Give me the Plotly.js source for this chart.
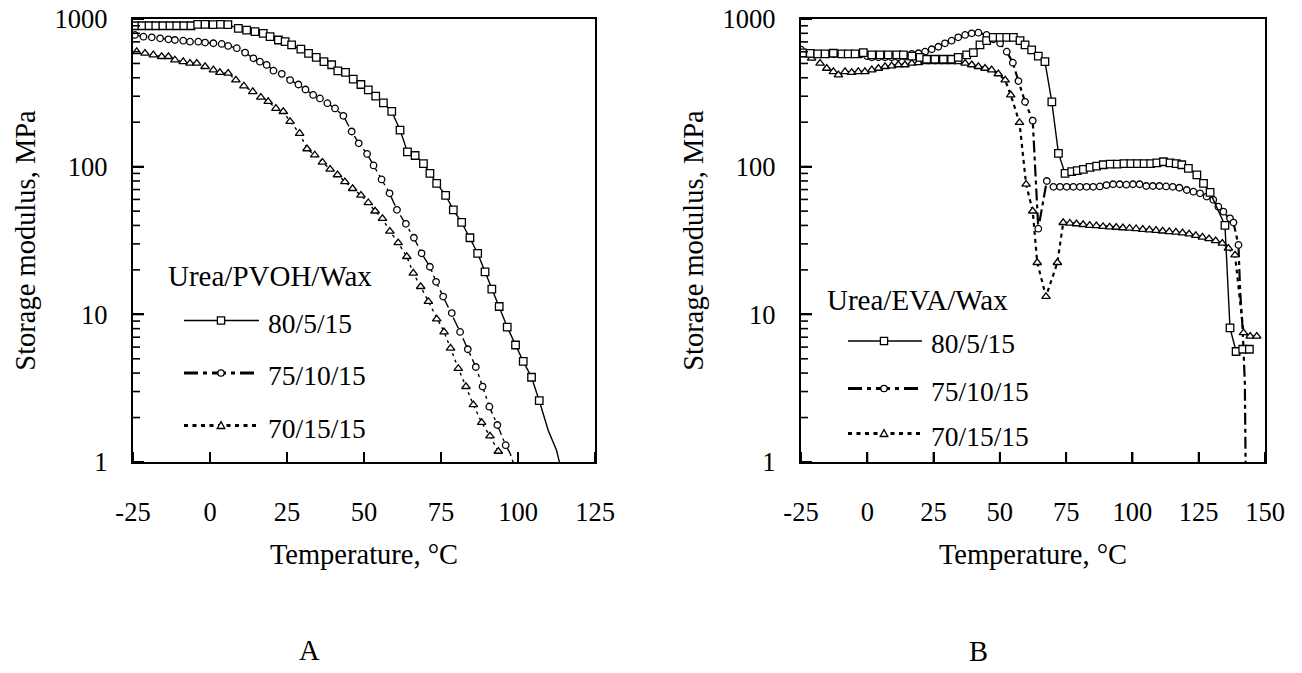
<!DOCTYPE html>
<html><head><meta charset="utf-8">
<script src="https://cdn.plot.ly/plotly-3.0.1.min.js"></script>
<style>html,body{margin:0;padding:0;background:#fff}#chart{width:1302px;height:673px}</style>
</head><body><div id="chart"></div>
<script>
const seriesNames = ['80/5/15','75/10/15','70/15/15'];
const legendTitles = ['Urea/PVOH/Wax','Urea/EVA/Wax'];
const panelLabels = ['A','B'];
const xTitle = 'Temperature, °C';
const yTitle = 'Storage modulus, MPa';
const xTickValsA = [-25,0,25,50,75,100,125];
const xTickTextA = ['-25','0','25','50','75','100','125'];
const xTickValsB = [-25,0,25,50,75,100,125,150];
const xTickTextB = ['-25','0','25','50','75','100','125','150'];
const yTickVals = [1,10,100,1000];
const yTickText = ['1','10','100','1000'];
const yMinorTickVals = [2,3,4,5,6,7,8,9,20,30,40,50,60,70,80,90,200,300,400,500,600,700,800,900];

// ---------- Panel A : Urea/PVOH/Wax ----------
const tempA80 = [-24.4,-22.1,-19.8,-17.6,-15.3,-13.0,-10.8,-8.5,-6.2,-4.0,-1.6,1.0,3.4,5.8,9.2,11.9,14.6,17.3,19.5,22.2,24.4,26.5,29.5,32.0,34.5,37.0,39.5,41.5,44.0,46.5,49.0,51.4,53.8,56.3,59.0,61.7,64.1,66.6,69.3,71.4,73.6,76.5,79.0,81.7,84.4,86.9,89.3,91.5,93.9,96.5,99.2,101.7,104.4,106.9];
const modA80  = [900,900,900,900,900,900,900,900,900,920,920,915,920,915,865,842,821,800,759,721,702,667,625,585,550,515,490,446,435,392,360,331,300,270,237,177,126,119,105,90,77,64,51,42,33,25.9,19.4,14.8,11.3,8.2,6.2,4.8,3.75,2.6];
const tailA80T = [106.9,109.8,112.5,113.6];
const tailA80E = [2.6,1.64,1.2,0.97];

const tempA75 = [-24.4,-21.6,-18.9,-16.2,-13.5,-11.4,-8.7,-6.5,-3.8,-1.6,1.1,3.8,5.9,8.7,11.4,14.1,16.2,18.4,20.6,23.3,26.0,28.7,31.0,33.5,35.7,38.1,40.6,43.3,46.0,48.3,51.0,53.1,55.7,58.3,60.7,63.6,66.2,68.7,71.4,73.4,75.7,78.5,81.2,83.7,86.3,88.5,90.7,93.3,96.0];
const modA75  = [780,759,752,740,728,721,713,702,702,692,685,678,657,634,592,542,514,489,447,425,386,360,333,306,290,269,248,221,173,144,122,102,82,66,51,41,33,25.9,21,16.6,13.2,10.2,7.6,5.8,4.4,3.24,2.37,1.78,1.30];
const tailA75T = [96.0,97.4,98.6];
const tailA75E = [1.30,1.15,0.97];

const tempA70 = [-23.8,-21.1,-18.4,-15.7,-13.5,-11.4,-8.7,-6.5,-4.3,-1.6,1.1,3.2,5.9,8.4,11.0,13.9,16.5,18.9,21.4,23.8,26.0,29.1,31.5,34.0,36.5,39.0,41.4,43.8,46.3,49.0,51.4,53.6,56.0,58.4,61.1,63.9,66.0,68.4,70.9,73.6,76.0,78.1,80.6,83.1,85.5,88.2,90.9,93.6];
const modA70  = [601,586,571,556,556,528,514,501,501,476,452,434,429,386,352,322,295,276,248,236,202,168,132,120,107,96,88,79,71,64,57,50,44.5,36.5,30.5,24.6,19,15.4,12.2,9.3,7.6,5.9,4.3,3.24,2.44,1.85,1.50,1.18];

// ---------- Panel B : Urea/EVA/Wax ----------
const tempB80 = [-24.4,-21.5,-18.7,-15.9,-12.8,-9.6,-7.2,-4.6,-1.5,1.7,4.8,7.9,11.1,13.6,16.8,19.9,22.4,25.5,28.7,31.8,34.3,37.5,40.0,42.5,45.0,47.5,50.1,52.6,55.1,57.6,59.5,62.0,64.5,67.0,69.6,72.1,74.6,77.1,79.2,81.5,84.0,86.5,89.0,91.6,94.3,96.8,99.4,101.9,104.4,106.9,109.2,111.7,114.2,116.5,118.6,121.1,124.3,126.8,129.3,134.9,136.8,139.1,141.6,144.1];
const modB80  = [590,585,580,580,586,580,580,580,592,571,571,571,571,571,561,550,534,534,534,534,550,571,592,667,713,752,752,752,752,713,667,617,561,514,275,123,90,92.5,94,96,99,101,103,104,104,105,105,105,105,105,106,108,106,105,103,97.5,88,77,67,40,8.1,5.6,5.8,5.8];

const tempB75 = [-25,-22.5,-20,-17.5,-15,-12.5,-10,-7.5,-5,-2.5,0,1.7,4.2,6.7,9.2,11.7,14.2,16.8,19.3,21.8,24.3,26.8,29.3,31.8,34.3,36.9,39.4,41.9,45.0,47.5,50.1,52.6,54.9,57.0,59.5,62.4,64.5,67.7,70.2,72.7,75.2,77.7,80.2,82.7,85.2,87.7,90.2,92.7,95.2,97.7,100.2,102.7,105.2,107.7,110.2,112.7,115.2,117.7,120.5,123,125.5,128,130.5,132.4,134.3,136.8,138.1,140];
const modB75  = [620,585,580,578,578,578,578,578,578,575,560,550,550,550,550,550,556,580,586,601,624,649,684,713,752,780,800,808,780,728,684,601,506,380,275,205,38,80,73,73,73,73,73,73,73,73.5,75,76,76,75.5,76,76,74,74,74,73.5,73,72,69.5,67.7,66,62.7,59.6,53.6,49.6,44.7,41.8,29.5];
const tailB75T = [140,140.6,141.6,142.4,142.7];
const tailB75E = [29.5,14.6,7.8,3.4,0.9];

const tempB70 = [-24.1,-21.0,-17.8,-15.3,-12.8,-10.9,-8.4,-5.9,-3.4,-0.9,1.7,4.2,6.7,9.2,11.7,14.2,16.8,19.3,21.8,24.3,26.8,29.3,31.8,34.3,36.9,39.4,41.9,44.4,46.9,49.4,52.0,54.1,57.4,59.9,62.4,64.1,67.4,71.7,73.9,76.4,78.9,81.4,83.9,86.4,88.9,91.4,93.9,96.4,98.9,101.4,103.9,106.4,108.9,111.4,113.9,116.4,118.9,121.4,123.9,126.4,128.9,131.4,133.9,136.2,138.7,141.9,144.4,146.9];
const modB70  = [571,542,501,463,440,418,440,434,440,440,452,463,476,481,489,489,501,506,514,514,514,514,514,514,501,489,476,463,452,425,386,306,199,76,50,22.4,13.2,22.4,41.8,41.4,41,40.5,40,39.8,39.3,39,38.8,38.5,38.3,38,37.6,37.3,37,36.6,36.3,36,35.6,35,34.2,33.3,32.5,31.5,30.3,28,25.2,7.5,7.1,7.1];

// ---------- styling ----------
const FONT = 'Liberation Serif, Times New Roman, serif';
const symbols = ['square','circle','triangle-up'];
const msize = [7.5,6.5,7.5];
const dashA = ['solid','12px,4px,3px,4px','3px,4px'];
const dashB = ['solid','12px,4px,4px,4px','4px,4px'];
const lwA = [1.4,1.4,1.4];
const lwB = [1.4,2.2,2.2];

function tr(x, y, i, xa, ya, dash, lw, withMarkers){
  return {
    x: x, y: y, xaxis: xa, yaxis: ya, name: seriesNames[i], showlegend:false,
    type:'scatter', mode: withMarkers ? 'lines+markers' : 'lines',
    line:{color:'black', width:lw, dash:dash},
    marker:{symbol:symbols[i], size:msize[i], color:'white', line:{color:'black', width:1.3}},
    hoverinfo:'x+y+name'
  };
}

const data = [
  tr(tailA75T, tailA75E, 1, 'x','y', dashA[1], lwA[1], false),
  tr(tailA80T, tailA80E, 0, 'x','y', dashA[0], lwA[0], false),
  tr(tempA70, modA70, 2, 'x','y', dashA[2], lwA[2], true),
  tr(tempA75, modA75, 1, 'x','y', dashA[1], lwA[1], true),
  tr(tempA80, modA80, 0, 'x','y', dashA[0], lwA[0], true),
  tr(tailB75T, tailB75E, 1, 'x2','y2', dashB[1], lwB[1], false),
  tr(tempB70, modB70, 2, 'x2','y2', dashB[2], lwB[2], true),
  tr(tempB75, modB75, 1, 'x2','y2', dashB[1], lwB[1], true),
  tr(tempB80, modB80, 0, 'x2','y2', dashB[0], lwB[0], true)
];

// ---------- layout geometry (pixels) ----------
const W = 1302, H = 673;
const L = 133, R = 37, TOP = 19, B = 211;
const PW = W - L - R, PH = H - TOP - B;
const fx = px => (px - L) / PW;
const fy = py => (TOP + PH - py) / PH;

function xax(range, domain, anchor, tv, tt){
  return {
    domain: domain, anchor: anchor, range: range, tickmode:'array', tickvals:tv, ticktext:tt,
    ticks:'inside', ticklen:10, tickwidth:2, tickcolor:'#000000',
    showline:true, linewidth:2.2, linecolor:'black', mirror:true,
    showgrid:false, zeroline:false, fixedrange:true,
    tickfont:{family:FONT, size:26.5, color:'black'}, ticklabelstandoff: 25,
    title:{text:xTitle, font:{family:FONT, size:28.5, color:'black'}, standoff: 18}
  };
}
function yax(anchor){
  return {
    type:'log', range:[0,3], tickmode:'array', tickvals:yTickVals, ticktext:yTickText, anchor:anchor,
    ticks:'inside', ticklen:11, tickwidth:2, tickcolor:'#000000',
    showline:true, linewidth:2.2, linecolor:'black', mirror:true,
    showgrid:false, zeroline:false, fixedrange:true,
    tickfont:{family:FONT, size:26.5, color:'black'}, ticklabelstandoff: 18,
    title:{text:yTitle, font:{family:FONT, size:28.5, color:'black'}, standoff: 11}
  };
}

const annotations = [];
const shapes = [];

// minor log ticks: drawn as paper shapes at the positions given by each y axis (log10 of the tick values)
const panelGeom = [{x0:133, y0:19, h:443}, {x0:801, y0:19, h:443}];
panelGeom.forEach(g => {
  const pyOf = v => g.y0 + g.h * (1 - Math.log10(v) / 3);
  yTickVals.forEach(v => {
    shapes.push({type:'line', xref:'paper', yref:'paper', x0:fx(g.x0), x1:fx(g.x0 + 11), y0:fy(pyOf(v)), y1:fy(pyOf(v)),
      line:{color:'black', width:2}, layer:'above'});
  });
  yMinorTickVals.forEach(v => {
    shapes.push({type:'line', xref:'paper', yref:'paper', x0:fx(g.x0), x1:fx(g.x0 + 7), y0:fy(pyOf(v)), y1:fy(pyOf(v)),
      line:{color:'black', width:1.6}, layer:'above'});
  });
});
// x ticks (inside, pointing up from the bottom frame)
[[xTickValsA, 133, 595, -25, 125], [xTickValsB, 801, 1265, -25, 150]].forEach(([tv, a, b, r0, r1]) => {
  tv.forEach(v => {
    const px = a + (b - a) * (v - r0) / (r1 - r0);
    shapes.push({type:'line', xref:'paper', yref:'paper', x0:fx(px), x1:fx(px), y0:fy(462), y1:fy(452),
      line:{color:'black', width:2}, layer:'above'});
  });
});

const legends = [
  {titleX:166, titleY:274, lx0:184, lx1:259, mx:221, tx:266, rows:[320.5,373,425.5], dashes:['solid','14px,5px,4px,5px','4px,4.5px']},
  {titleX:825, titleY:298, lx0:848, lx1:922, mx:884, tx:929, rows:[341,388.5,433.5], dashes:['solid','14px,5px,4px,5px','4px,4.5px']}
];
legends.forEach((lg, p) => {
  annotations.push({xref:'paper', yref:'paper', x:fx(lg.titleX), y:fy(lg.titleY+2), xanchor:'left', yanchor:'middle',
    text:legendTitles[p], showarrow:false, font:{family:FONT, size:29, color:'black'}});
  lg.rows.forEach((ry, i) => {
    shapes.push({type:'line', xref:'paper', yref:'paper', x0:fx(lg.lx0), x1:fx(lg.lx1), y0:fy(ry), y1:fy(ry),
      line:{color:'black', width: i===0 ? 1.6 : 2.8, dash: lg.dashes[i]}});
    const base = {xref:'paper', yref:'paper', xsizemode:'pixel', ysizemode:'pixel', xanchor:fx(lg.mx), yanchor:fy(ry),
      line:{color:'black', width:1.3}, fillcolor:'white'};
    if (i === 0) shapes.push(Object.assign({type:'rect', x0:-3.6, x1:3.6, y0:-3.6, y1:3.6}, base));
    if (i === 1) shapes.push(Object.assign({type:'circle', x0:-3.2, x1:3.2, y0:-3.2, y1:3.2}, base));
    if (i === 2) shapes.push(Object.assign({type:'path', path:'M-3.8,-3 L3.8,-3 L0,3.8 Z'}, base));
    annotations.push({xref:'paper', yref:'paper', x:fx(lg.tx), y:fy(ry+2.5), xanchor:'left', yanchor:'middle',
      text:seriesNames[i], showarrow:false, font:{family:FONT, size:27.5, color:'black'}});
  });
});
annotations.push({xref:'paper', yref:'paper', x:fx(309), y:fy(650), xanchor:'center', yanchor:'middle',
  text:panelLabels[0], showarrow:false, font:{family:FONT, size:28.5, color:'black'}});
annotations.push({xref:'paper', yref:'paper', x:fx(978), y:fy(651), xanchor:'center', yanchor:'middle',
  text:panelLabels[1], showarrow:false, font:{family:FONT, size:28.5, color:'black'}});

const layout = {
  width:W, height:H, margin:{l:L, r:R, t:TOP, b:B},
  paper_bgcolor:'white', plot_bgcolor:'white', showlegend:false,
  font:{family:FONT, color:'black'},
  xaxis: xax([-25,125], [0, fx(595)], 'y', xTickValsA, xTickTextA),
  yaxis: yax('x'),
  xaxis2: xax([-25,150], [fx(801), 1], 'y2', xTickValsB, xTickTextB),
  yaxis2: yax('x2'),
  annotations: annotations,
  shapes: shapes
};

Plotly.newPlot('chart', data, layout, {displayModeBar:false, staticPlot:true});
</script>
</body></html>
